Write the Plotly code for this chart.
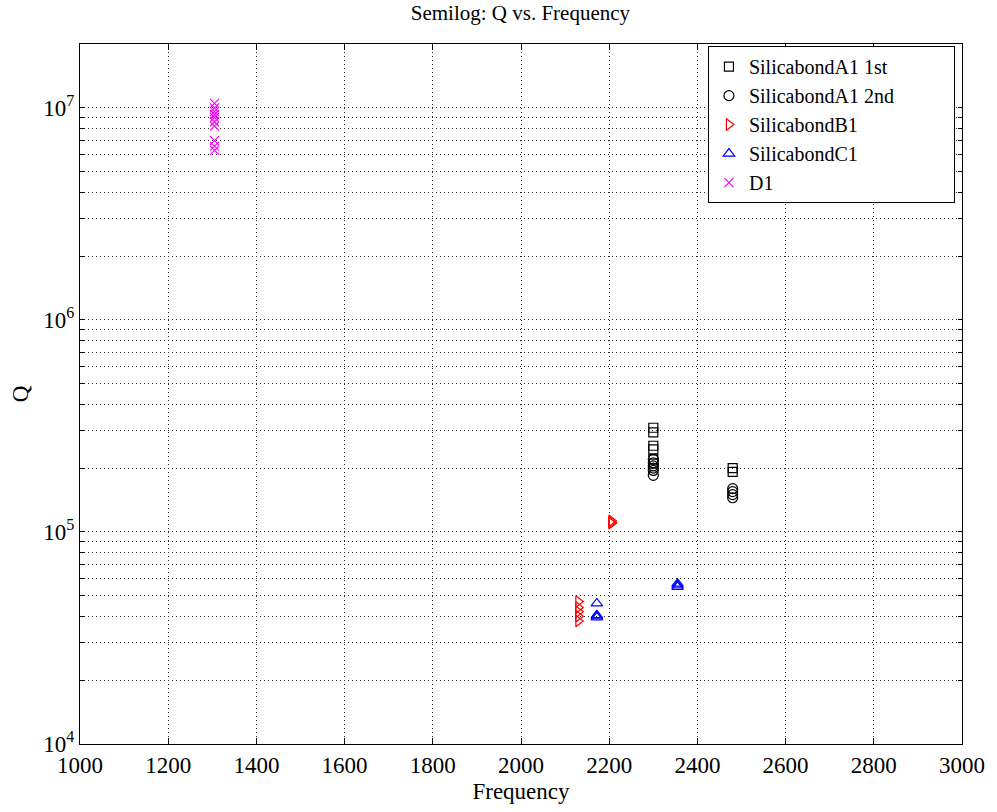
import plotly.graph_objects as go

# ---- data ----
a1_1st_freq = [2300, 2300, 2300, 2300, 2300, 2300, 2480, 2480]
a1_1st_q = [3.1e5, 2.95e5, 2.55e5, 2.45e5, 2.2e5, 2.1e5, 2.0e5, 1.92e5]

a1_2nd_freq = [2300, 2300, 2300, 2300, 2300, 2300, 2480, 2480, 2480, 2480]
a1_2nd_q = [2.2e5, 2.12e5, 2.05e5, 2.0e5, 1.95e5, 1.85e5, 1.6e5, 1.55e5, 1.5e5, 1.45e5]

b1_freq = [2205, 2205, 2205, 2130, 2130, 2130, 2130, 2130]
b1_q = [1.13e5, 1.11e5, 1.10e5, 4.7e4, 4.4e4, 4.2e4, 4.0e4, 3.8e4]

c1_freq = [2172, 2172, 2172, 2172, 2355, 2355, 2355]
c1_q = [4.6e4, 4.05e4, 4.0e4, 3.95e4, 5.7e4, 5.6e4, 5.5e4]

d1_freq = [1305] * 10
d1_q = [1.05e7, 1.0e7, 9.6e6, 9.3e6, 9.0e6, 8.6e6, 8.2e6, 7.0e6, 6.6e6, 6.3e6]

series_names = ["SilicabondA1 1st", "SilicabondA1 2nd", "SilicabondB1", "SilicabondC1", "D1"]
x_ticks = [1000, 1200, 1400, 1600, 1800, 2000, 2200, 2400, 2600, 2800, 3000]
y_decades = [4, 5, 6, 7]

# ---- axis tick construction ----
y_tickvals, y_ticktext = [], []
for d in y_decades:
    for m in range(1, 10):
        v = m * 10 ** d
        if v > 2e7:
            break
        y_tickvals.append(v)
        y_ticktext.append(f"10<sup>{d}</sup>" if m == 1 else "")

FONT = "Liberation Serif"
PAD = "&nbsp;" * 11
fig = go.Figure()

def add(xs, ys, name, symbol, color, size=9):
    fig.add_trace(go.Scatter(
        x=xs, y=ys, mode="markers", name=name + PAD,
        marker=dict(symbol=symbol, size=size, color=color,
                    line=dict(color=color, width=1.2)),
    ))

add(a1_1st_freq, a1_1st_q, series_names[0], "square-open", "black")
add(a1_2nd_freq, a1_2nd_q, series_names[1], "circle-open", "black", 10)
add(b1_freq, b1_q, series_names[2], "triangle-right-open", "red", 10)
add(c1_freq, c1_q, series_names[3], "triangle-up-open", "blue", 10)
add(d1_freq, d1_q, series_names[4], "x-thin-open", "magenta", 9)

grid = dict(showgrid=True, gridcolor="#222222", gridwidth=1, griddash="1px,3px")

fig.update_layout(
    width=997, height=812,
    paper_bgcolor="white", plot_bgcolor="white",
    margin=dict(l=80, r=32, t=44, b=67),
    font=dict(family=FONT, size=23, color="black"),
    title=dict(text="Semilog: Q vs. Frequency", x=0.522, xanchor="center",
               y=0.993, yanchor="top", font=dict(family=FONT, size=21)),
    showlegend=True,
    legend=dict(x=0.992, xanchor="right", y=0.997, yanchor="top",
                bordercolor="black", borderwidth=1, bgcolor="white",
                font=dict(family=FONT, size=20)),
    xaxis=dict(range=[1000, 3000], tickvals=x_ticks, ticktext=[str(t) for t in x_ticks],
               ticks="inside", ticklen=6, tickcolor="black", showline=True,
               linecolor="black", linewidth=1, mirror="ticks", zeroline=False,
               title=dict(text="Frequency", standoff=6, font=dict(family=FONT, size=23)),
               **grid),
    yaxis=dict(type="log", range=[4, 7.30103], tickvals=y_tickvals, ticktext=y_ticktext,
               ticks="inside", ticklen=4, tickcolor="black", showline=True,
               linecolor="black", linewidth=1, mirror="ticks", zeroline=False,
               title=dict(text="Q", standoff=8, font=dict(family=FONT, size=23)),
               **grid),
)

fig.write_html("out.html")
